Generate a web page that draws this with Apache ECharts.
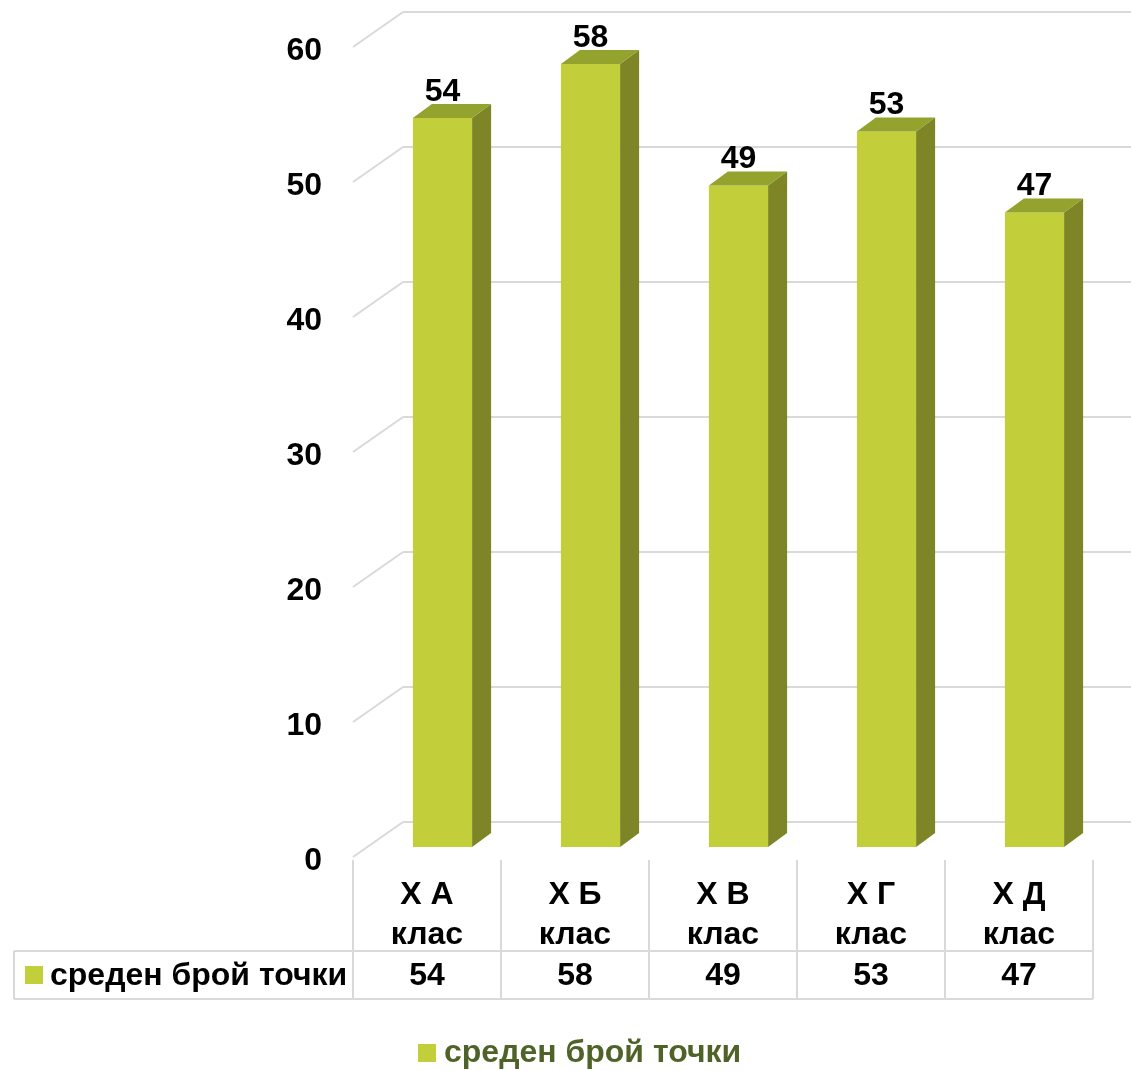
<!DOCTYPE html>
<html><head><meta charset="utf-8">
<script src="https://cdn.jsdelivr.net/npm/echarts@6/dist/echarts.min.js"></script>
<style>html,body{margin:0;padding:0;background:#fff}#c{width:1131px;height:1071px}</style>
</head><body><div id="c"></div>
<script>
const categories = ['X А\nклас','X Б\nклас','X В\nклас','X Г\nклас','X Д\nклас'];
const seriesName = 'среден брой точки';
const values = [54, 58, 49, 53, 47];
const yTicks = [0, 10, 20, 30, 40, 50, 60];

const FONT = '"Liberation Sans", Arial, sans-serif';
const FS = 32;
const FRONT = '#c2cf3b', TOP = '#94a22e', SIDE = '#7e8526', GRIDC = '#d9d9d9';
const DX = 19, DY = 14;

const chart = echarts.init(document.getElementById('c'), null, {renderer: 'canvas'});

function barItem(params, api) {
  const i = api.value(0), v = api.value(1);
  const top = api.coord([i, v]);
  const base = api.coord([i, 0]);
  const w = api.size([1, 0])[0] * 0.4;
  const l = top[0] - w / 2, r = top[0] + w / 2, ty = top[1], by = base[1];
  return {type: 'group', children: [
    {type: 'rect', shape: {x: l, y: ty, width: w, height: by - ty}, style: {fill: FRONT}},
    {type: 'polygon', shape: {points: [[r, ty], [r + DX, ty - DY], [r + DX, by - DY], [r, by]]}, style: {fill: SIDE}},
    {type: 'polygon', shape: {points: [[l, ty], [l + DX, ty - DY], [r + DX, ty - DY], [r, ty]]}, style: {fill: TOP}},
    {type: 'text', style: {x: top[0], y: ty - DY - 12, text: String(v), align: 'center', verticalAlign: 'middle',
      fontFamily: FONT, fontWeight: 'bold', fontSize: FS, fill: '#000'}}
  ]};
}

function diagItem(params, api) {
  const p = api.coord([0, api.value(1)]);
  return {type: 'line', shape: {x1: p[0], y1: p[1], x2: p[0] - 50, y2: p[1] + 35},
    style: {stroke: GRIDC, lineWidth: 2}};
}

function tableItem(params, api) {
  const i = api.value(0);
  const c = api.coord([i, 1]);
  const b = api.coord([i, 0]);
  const cw = api.size([1, 0])[0];
  const l = c[0] - cw / 2, r = c[0] + cw / 2;
  const yTop = c[1], yBot = b[1], yMid = yBot - 48;
  const ls = {stroke: GRIDC, lineWidth: 2};
  const ch = [
    {type: 'line', shape: {x1: l, y1: yTop, x2: l, y2: yBot}, style: ls},
    {type: 'line', shape: {x1: l, y1: yMid, x2: r, y2: yMid}, style: ls},
    {type: 'line', shape: {x1: l, y1: yBot, x2: r, y2: yBot}, style: ls},
    {type: 'text', style: {x: c[0], y: 915, text: categories[i], align: 'center', verticalAlign: 'middle',
      lineHeight: 40, fontFamily: FONT, fontWeight: 'bold', fontSize: FS, fill: '#000'}},
    {type: 'text', style: {x: c[0], y: (yMid + yBot) / 2 + 1, text: String(values[i]), align: 'center', verticalAlign: 'middle',
      fontFamily: FONT, fontWeight: 'bold', fontSize: FS, fill: '#000'}}
  ];
  if (i === categories.length - 1) {
    ch.push({type: 'line', shape: {x1: r, y1: yTop, x2: r, y2: yBot}, style: ls});
  }
  if (i === 0) {
    const x0 = l - 339;
    ch.push(
      {type: 'line', shape: {x1: x0, y1: yMid, x2: l, y2: yMid}, style: ls},
      {type: 'line', shape: {x1: x0, y1: yBot, x2: l, y2: yBot}, style: ls},
      {type: 'line', shape: {x1: x0, y1: yMid, x2: x0, y2: yBot}, style: ls},
      {type: 'rect', shape: {x: x0 + 11, y: (yMid + yBot) / 2 - 9, width: 18, height: 18}, style: {fill: FRONT}},
      {type: 'text', style: {x: x0 + 36, y: (yMid + yBot) / 2 + 1, text: seriesName, align: 'left', verticalAlign: 'middle',
        fontFamily: FONT, fontWeight: 'bold', fontSize: FS, fill: '#000'}}
    );
  }
  return {type: 'group', children: ch};
}

const option = {
  animation: false,
  backgroundColor: '#fff',
  grid: [
    {left: 368.5, top: 37, width: 740, height: 810},
    {left: 403, top: 12, width: 728, height: 810},
    {left: 353, top: 51, width: 50, height: 810},
    {left: 353, top: 860, width: 740, height: 139}
  ],
  xAxis: [
    {gridIndex: 0, type: 'category', data: categories, show: false},
    {gridIndex: 1, type: 'value', min: 0, max: 1, show: false},
    {gridIndex: 2, type: 'value', min: 0, max: 1, show: false},
    {gridIndex: 3, type: 'category', data: categories, show: false}
  ],
  yAxis: [
    {gridIndex: 0, type: 'value', min: 0, max: 60, interval: 10, show: false},
    {gridIndex: 1, type: 'value', min: 0, max: 60, interval: 10,
      axisLine: {show: false}, axisTick: {show: false}, axisLabel: {show: false},
      splitLine: {show: true, lineStyle: {color: GRIDC, width: 2}}},
    {gridIndex: 2, type: 'value', min: 0, max: 60, interval: 10,
      axisLine: {show: false}, axisTick: {show: false}, splitLine: {show: false},
      axisLabel: {margin: 31, fontFamily: FONT, fontWeight: 'bold', fontSize: FS, color: '#000'}},
    {gridIndex: 3, type: 'value', min: 0, max: 1, show: false}
  ],
  legend: {
    data: [{name: seriesName, icon: 'rect'}],
    left: 418, top: 1037, padding: 0, itemWidth: 18, itemHeight: 18, itemGap: 10,
    textStyle: {fontFamily: FONT, fontWeight: 'bold', fontSize: FS, color: '#4f6228', padding: [0, 0, 0, 3]}
  },
  series: [
    {type: 'custom', name: 'wall', xAxisIndex: 1, yAxisIndex: 1, renderItem: diagItem,
      data: yTicks.map(v => [0, v]), silent: true, z: 1},
    {type: 'custom', name: seriesName, xAxisIndex: 0, yAxisIndex: 0, renderItem: barItem,
      itemStyle: {color: FRONT}, data: values.map((v, i) => [i, v]), z: 3},
    {type: 'custom', name: 'table', xAxisIndex: 3, yAxisIndex: 3, renderItem: tableItem,
      data: values.map((v, i) => [i, v]), silent: true, z: 2}
  ]
};
chart.setOption(option);
</script>
</body></html>
